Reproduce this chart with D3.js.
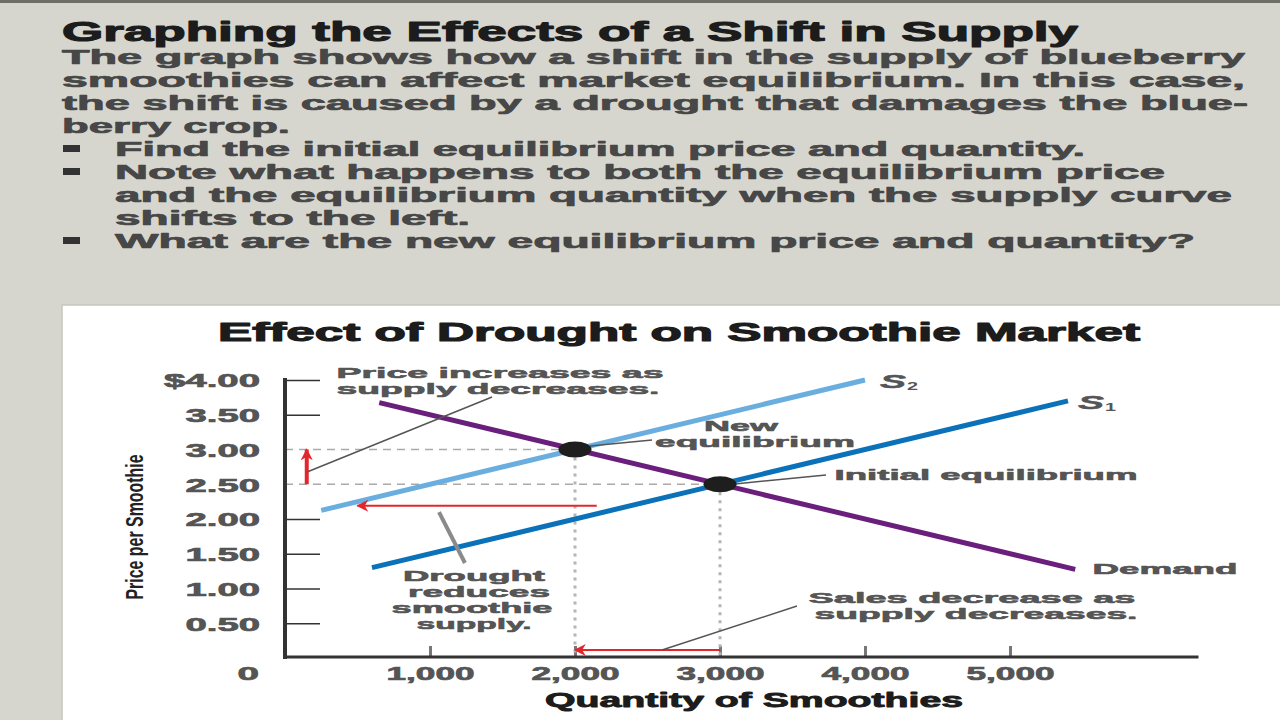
<!DOCTYPE html>
<html><head><meta charset="utf-8">
<script src="https://cdn.jsdelivr.net/npm/d3@7"></script>
<style>html,body{margin:0;padding:0;background:#d6d6ce;} svg{display:block;}</style>
</head><body>
<svg id="c" width="1280" height="720"></svg>
<script>
// ---- data ----
const yTicks = [0.5, 1.0, 1.5, 2.0, 2.5, 3.0, 3.5, 4.0];
const yTickLabels = ["0.50", "1.00", "1.50", "2.00", "2.50", "3.00", "3.50", "$4.00"];
const xTicks = [1000, 2000, 3000, 4000, 5000];
const xTickLabels = ["1,000", "2,000", "3,000", "4,000", "5,000"];
const demand = [[650, 3.675], [5450, 1.275]];
const supply1 = [[600, 1.30], [5400, 3.70]];
const supply2 = [[250, 2.125], [4000, 4.00]];
const initialEq = [3000, 2.50];
const newEq = [2000, 3.00];
const priceShift = [[150, 2.50], [150, 3.00]];
const supplyShift = [[2150, 2.19], [500, 2.19]];
const salesShift = [[3000, 0.115], [2000, 0.115]];

const headTitle = "Graphing the Effects of a Shift in Supply";
const headLines = [
  "The graph shows how a shift in the supply of blueberry",
  "smoothies can affect market equilibrium. In this case,",
  "the shift is caused by a drought that damages the blue-",
  "berry crop."
];
const bullets = [
  ["Find the initial equilibrium price and quantity."],
  ["Note what happens to both the equilibrium price", "and the equilibrium quantity when the supply curve", "shifts to the left."],
  ["What are the new equilibrium price and quantity?"]
];

// ---- layout ----
const svg = d3.select("#c");
const FONT = "'Liberation Sans', Arial, Helvetica, sans-serif";
function T(sel, s, x, y, o) {
  const t = sel.append("text").attr("x", x).attr("y", y).text(s)
    .attr("font-family", o.family || FONT).attr("font-weight", o.weight || "bold")
    .attr("font-size", o.size).attr("fill", o.fill || "#555")
    .attr("text-anchor", o.anchor || "start");
  if (o.style) t.attr("font-style", o.style);
  if (o.sw) t.attr("stroke", o.fill || "#555").attr("stroke-width", o.sw).attr("stroke-linejoin", "round");
  if (o.w) t.attr("textLength", o.w).attr("lengthAdjust", "spacingAndGlyphs");
  return t;
}

svg.append("rect").attr("width", 1280).attr("height", 720).attr("fill", "#d6d6ce");
svg.append("rect").attr("width", 1280).attr("height", 3).attr("fill", "#6f6f68");

// header
T(svg, headTitle, 62, 41, {size: 27, fill: "#1c1c1c", w: 1016, sw: 1.1});
const lineW = [1183, 1183, 1186, 228];
headLines.forEach((s, i) => T(svg, s, 62, 64 + i * 23, {size: 20, fill: "#474747", w: lineW[i], sw: 0.7}));
const bW = [[970], [1050, 1117, 355], [1080]];
let row = 4;
bullets.forEach((b, bi) => {
  b.forEach((s, li) => {
    const yy = 64 + row * 23;
    if (li === 0) svg.append("rect").attr("x", 63).attr("y", yy - 11).attr("width", 17).attr("height", 7).attr("fill", "#333");
    T(svg, s, 115, yy, {size: 20, fill: "#474747", w: bW[bi][li], sw: 0.7});
    row++;
  });
});

// chart panel
svg.append("rect").attr("x", 62).attr("y", 305).attr("width", 1220).attr("height", 420)
  .attr("fill", "#fff").attr("stroke", "#c6c6be").attr("stroke-width", 1.5);

T(svg, "Effect of Drought on Smoothie Market", 679, 341, {size: 25, fill: "#1c1c1c", anchor: "middle", w: 922, sw: 1.1});

const x = d3.scaleLinear().domain([0, 6300]).range([285, 1198.5]);
const y = d3.scaleLinear().domain([0, 4]).range([658, 380]);

const defs = svg.append("defs");
defs.append("marker").attr("id", "ah").attr("viewBox", "0 0 10 10").attr("refX", 9).attr("refY", 5)
  .attr("markerUnits", "userSpaceOnUse").attr("markerWidth", 17).attr("markerHeight", 12).attr("orient", "auto")
  .append("path").attr("d", "M0,0 L10,5 L0,10 L3,5 Z").attr("fill", "#e3262b");

// y axis labels
const ya = svg.append("g").attr("transform", "translate(285,0)")
  .call(d3.axisLeft(y).tickValues(yTicks).tickFormat((d, i) => yTickLabels[i]).tickSize(0).tickPadding(25));
ya.select(".domain").remove();
ya.selectAll("text").attr("font-family", FONT).attr("font-weight", "bold").attr("font-size", 19)
  .attr("fill", "#555").attr("stroke", "#555").attr("stroke-width", 0.7).attr("dy", "0.36em")
  .each(function(d, i) {
    const s = yTickLabels[i];
    let w = 0; for (const c of s) w += (c === "." || c === ",") ? 10 : 21.5;
    d3.select(this).attr("textLength", w).attr("lengthAdjust", "spacingAndGlyphs");
  });
// y tick marks (right side)
const yt = svg.append("g").attr("transform", "translate(285,0)")
  .call(d3.axisRight(y).tickValues(yTicks.filter(v => v !== 2.5 && v !== 3.0)).tickSize(35).tickFormat(""));
yt.select(".domain").remove();
yt.selectAll("line").attr("stroke", "#333").attr("stroke-width", 1.6);

T(svg, "0", 259, 680, {size: 19, fill: "#555", anchor: "end", w: 21.5, sw: 0.7});

// x axis labels
const xa = svg.append("g").attr("transform", "translate(0,657)")
  .call(d3.axisBottom(x).tickValues(xTicks).tickFormat((d, i) => xTickLabels[i]).tickSize(0));
xa.select(".domain").remove();
xa.selectAll("text").attr("font-family", FONT).attr("font-weight", "bold").attr("font-size", 19)
  .attr("fill", "#555").attr("stroke", "#555").attr("stroke-width", 0.7).attr("dy", null).attr("y", 23)
  .attr("textLength", 88).attr("lengthAdjust", "spacingAndGlyphs");
const xt = svg.append("g").attr("transform", "translate(0,657)")
  .call(d3.axisTop(x).tickValues(xTicks).tickSize(11).tickFormat(""));
xt.select(".domain").remove();
xt.selectAll("line").attr("stroke", "#777").attr("stroke-width", 3);

T(svg, "Quantity of Smoothies", 754, 707, {size: 21, fill: "#1c1c1c", anchor: "middle", w: 418, sw: 0.9});
T(svg, "Price per Smoothie", 0, 0, {size: 24, fill: "#222", anchor: "middle", w: 145,
  family: "'Liberation Sans Narrow', 'Arial Narrow', " + FONT})
  .attr("transform", "translate(143,527) rotate(-90)");

// reference lines
const refs = svg.append("g");
[newEq, initialEq].forEach(e => {
  refs.append("line").attr("x1", x(0)).attr("x2", x(e[0])).attr("y1", y(e[1])).attr("y2", y(e[1]))
    .attr("stroke", "#aaa").attr("stroke-width", 1.5).attr("stroke-dasharray", "8,6");
  refs.append("line").attr("x1", x(e[0])).attr("x2", x(e[0])).attr("y1", y(e[1])).attr("y2", y(0))
    .attr("stroke", "#b5b5b5").attr("stroke-width", 3).attr("stroke-dasharray", "3,5");
});

// axes lines
svg.append("line").attr("x1", x(0) - 1).attr("x2", x(6300)).attr("y1", 657).attr("y2", 657)
  .attr("stroke", "#333").attr("stroke-width", 3);
svg.append("line").attr("x1", x(0)).attr("x2", x(0)).attr("y1", y(4) - 2).attr("y2", 659)
  .attr("stroke", "#333").attr("stroke-width", 4);

// curves
const line = d3.line().x(d => x(d[0])).y(d => y(d[1]));
svg.append("path").attr("d", line(supply2)).attr("fill", "none").attr("stroke", "#6aaee0").attr("stroke-width", 5);
svg.append("path").attr("d", line(supply1)).attr("fill", "none").attr("stroke", "#0b72b9").attr("stroke-width", 5);
svg.append("path").attr("d", line(demand)).attr("fill", "none").attr("stroke", "#6b1f7c").attr("stroke-width", 5);

// red arrows
[[priceShift, 4], [supplyShift, 2], [salesShift, 2]].forEach(([a, w]) => {
  svg.append("path").attr("d", line(a)).attr("fill", "none").attr("stroke", "#e3262b")
    .attr("stroke-width", w).attr("marker-end", "url(#ah)");
});

// leader lines (data coordinates)
const leaders = [
  [[1428, 3.755], [152, 2.676], "#555", 1.5],
  [[2103, 3.05], [2531, 3.137], "#555", 1.5],
  [[3103, 2.504], [3731, 2.633], "#555", 1.5],
  [[1062, 2.10], [1241, 1.367], "#8a8a8a", 4],
  [[2600, 0.115], [3531, 0.748], "#555", 1.5]
];
leaders.forEach(([a, b, c, w]) => svg.append("path").attr("d", line([a, b])).attr("stroke", c).attr("stroke-width", w));

// equilibrium dots
[newEq, initialEq].forEach(e => svg.append("ellipse").attr("cx", x(e[0])).attr("cy", y(e[1]))
  .attr("rx", 16.5).attr("ry", 8).attr("fill", "#1e1e1e"));

// annotation texts
const A = {size: 15.5, fill: "#555", anchor: "middle", sw: 0.6};
T(svg, "Price increases as", 500, 378, {...A, w: 327});
T(svg, "supply decreases.", 498, 394, {...A, w: 323});
T(svg, "New", 741, 431, {...A, w: 74});
T(svg, "equilibrium", 755, 447, {...A, w: 200});
T(svg, "Initial equilibrium", 986, 480, {...A, w: 303});
T(svg, "Demand", 1165, 574, {...A, w: 145});
T(svg, "Drought", 474, 581, {...A, w: 142});
T(svg, "reduces", 479, 597, {...A, w: 142});
T(svg, "smoothie", 472, 613, {...A, w: 161});
T(svg, "supply.", 474, 629, {...A, w: 115});
T(svg, "Sales decrease as", 972, 603, {...A, w: 327});
T(svg, "supply decreases.", 976, 619, {...A, w: 323});

// supply labels
function sLabel(sub, xx, yy) {
  T(svg, "S", xx, yy, {size: 19, fill: "#555", style: "italic", w: 26, sw: 0.5});
  T(svg, sub, xx + 27, yy + 2, {size: 11, fill: "#555", w: 11});
}
sLabel("2", 880, 388);
sLabel("1", 1078, 409);
</script>
</body></html>
